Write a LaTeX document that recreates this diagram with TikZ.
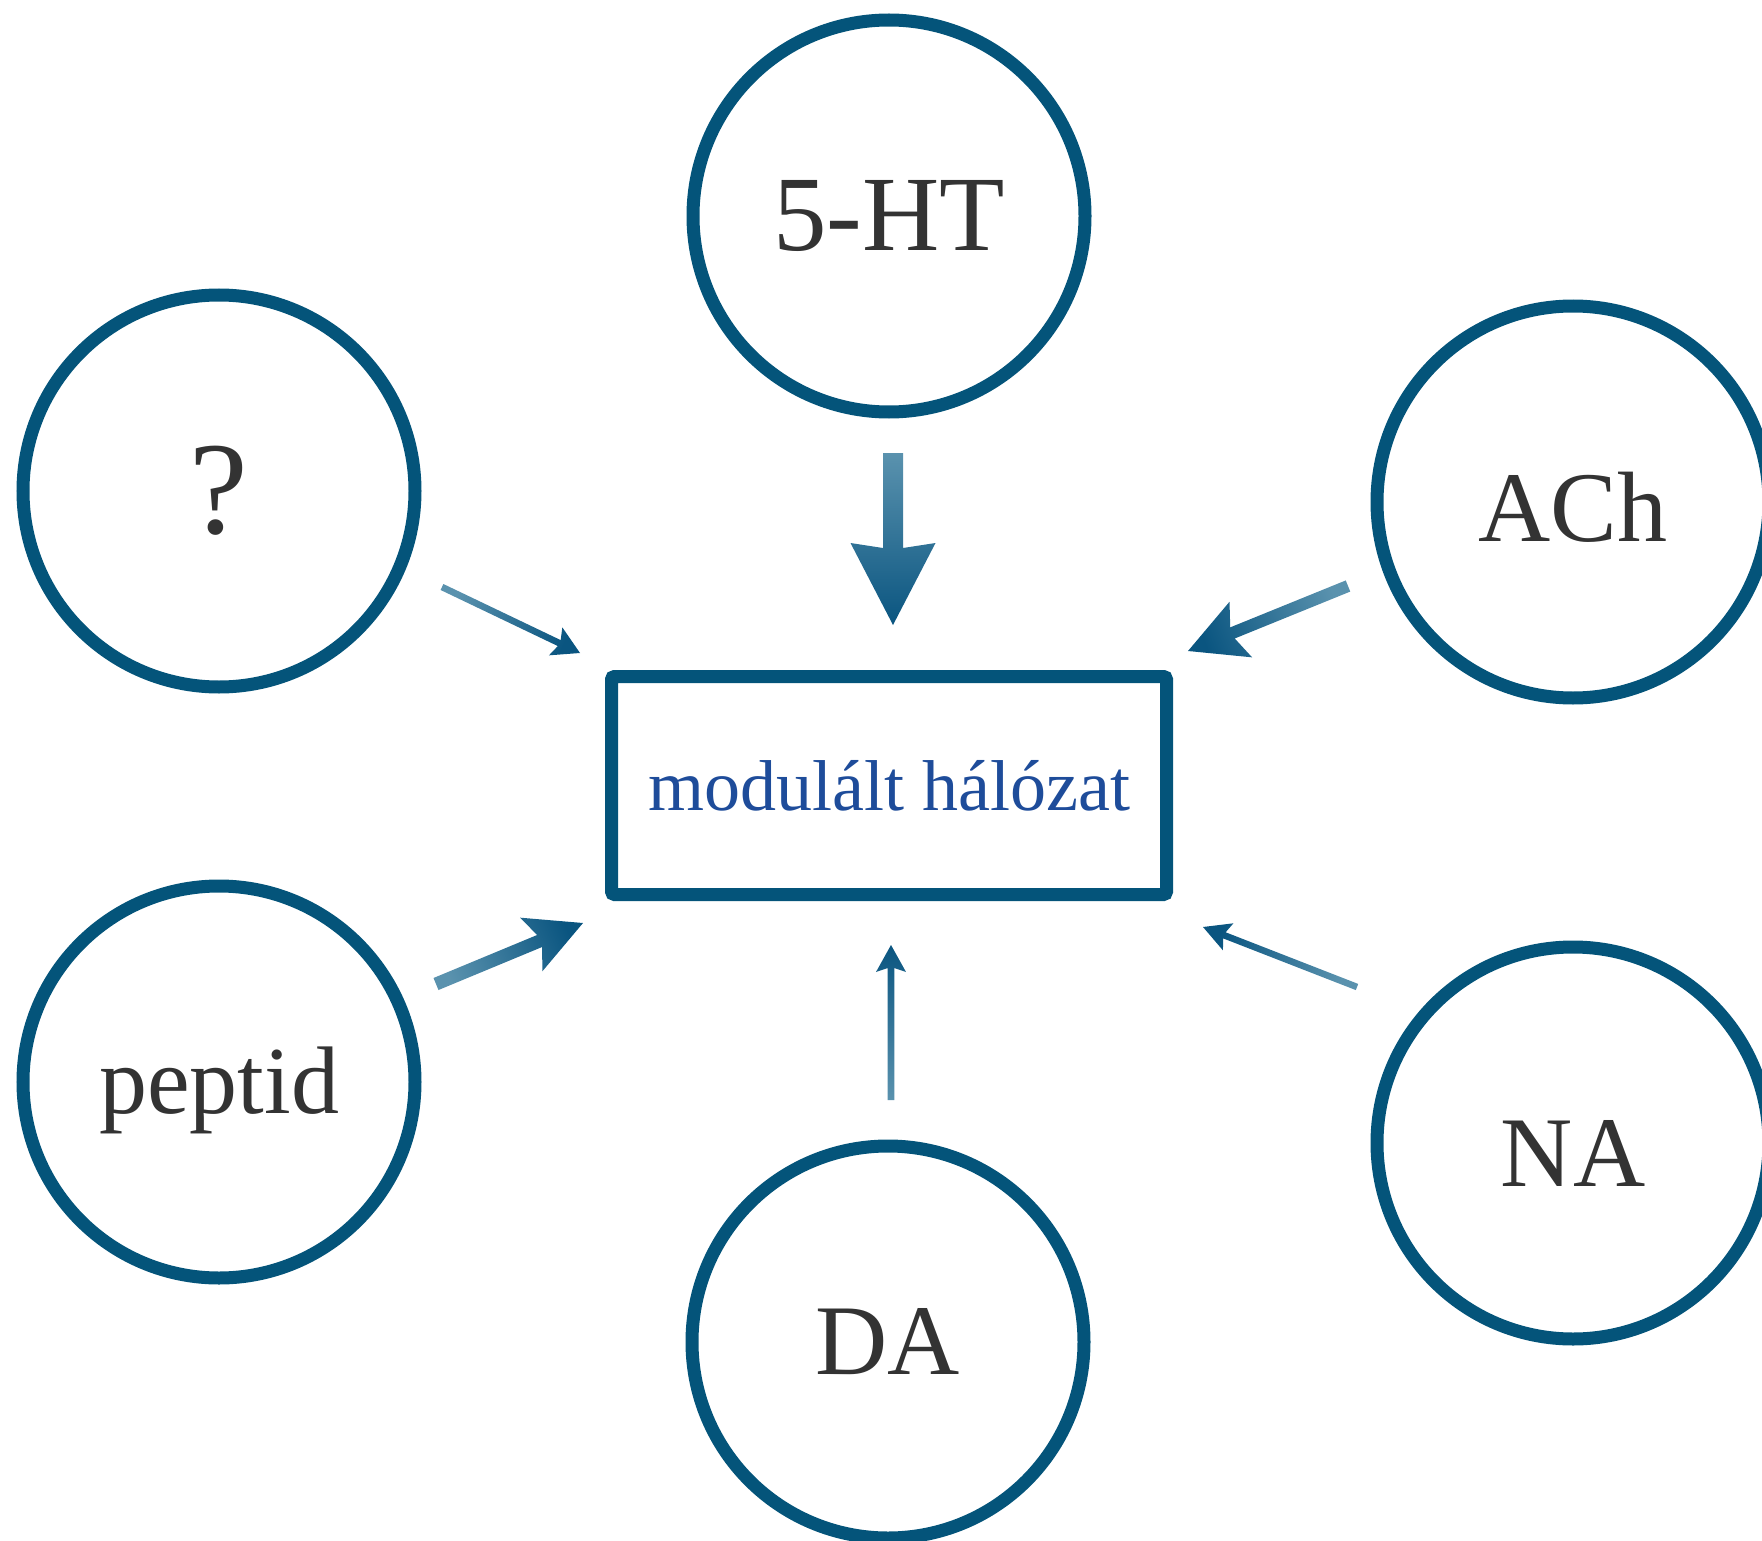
\documentclass[tikz,border=0pt]{standalone}
\usepackage{fontspec}
\setmainfont{Liberation Serif}
\usetikzlibrary{calc}
\definecolor{ring}{HTML}{04547A}
\definecolor{lbl}{HTML}{333333}
\definecolor{boxtxt}{HTML}{1E4C9A}
\definecolor{arrlight}{HTML}{5A92AE}
\definecolor{arrdark}{HTML}{0A5580}
% #1 start, #2 tip, #3 half shaft width, #4 head length, #5 half head width, #6 junction distance from tip, #7 shading angle
\newcommand{\shadearrow}[7]{%
  \coordinate (#1-j) at ($(#2)!#6!(#1)$);
  \coordinate (#1-b) at ($(#2)!#4!(#1)$);
  \shade[top color=arrdark, bottom color=arrlight, shading angle=#7]
    ($(#1)!#3!90:(#2)$) -- ($(#1-j)!#3!90:(#2)$) -- ($(#1-b)!#5!90:(#2)$) -- (#2)
    -- ($(#1-b)!#5!-90:(#2)$) -- ($(#1-j)!#3!-90:(#2)$) -- ($(#1)!#3!-90:(#2)$) -- cycle;
}
\newcommand{\lowered}[2]{\raisebox{-#1}[\height][\depth]{#2}}
\begin{document}
\begin{tikzpicture}[x=1pt,y=-1pt,
  ringnode/.style={circle, draw=ring, line width=13pt, minimum size=392pt, inner sep=0pt,
    text=lbl, font=\fontsize{100}{120}\selectfont},
  boxnode/.style={draw=ring, line width=13pt, minimum width=555pt, minimum height=218pt,
    rounded corners=3pt, inner sep=0pt, text=boxtxt, font=\fontsize{72}{86}\selectfont}]
\useasboundingbox (0,0) rectangle (1762,1541);
\node[ringnode, font=\fontsize{107}{128}\selectfont] (ht)  at (889,216)  {5-HT};
\node[ringnode, font=\fontsize{132}{150}\selectfont] (q)   at (219,491)  {?};
\node[ringnode] (ach) at (1573,502) {\lowered{5pt}{ACh}};
\node[ringnode, font=\fontsize{96}{115}\selectfont] (pep) at (219,1082) {\lowered{8pt}{peptid}};
\node[ringnode] (na)  at (1573,1143) {\lowered{10pt}{NA}};
\node[ringnode] (da)  at (888,1342) {DA};
\node[boxnode] (box) at (889,785.5) {modulált hálózat};
% arrow end points
\coordinate (a1) at (893,453);  \coordinate (a1e) at (893,625);
\coordinate (a2) at (1348,586); \coordinate (a2e) at (1188,651);
\coordinate (a3) at (442,587);  \coordinate (a3e) at (580,653);
\coordinate (a4) at (436,984);  \coordinate (a4e) at (583,923);
\coordinate (a5) at (1357,987); \coordinate (a5e) at (1203,927);
\coordinate (a6) at (891,1100); \coordinate (a6e) at (891,945);
\shadearrow{a1}{a1e}{10pt}{82pt}{42.5pt}{77pt}{180}
\shadearrow{a2}{a2e}{6pt}{57pt}{30pt}{48pt}{111.6}
\shadearrow{a3}{a3e}{3.3pt}{27pt}{15.5pt}{23pt}{-115.6}
\shadearrow{a4}{a4e}{6.5pt}{56pt}{29pt}{47pt}{-67.9}
\shadearrow{a5}{a5e}{3.3pt}{27pt}{14.5pt}{23pt}{68.7}
\shadearrow{a6}{a6e}{3.3pt}{27pt}{15pt}{23pt}{0}
\end{tikzpicture}
\end{document}
